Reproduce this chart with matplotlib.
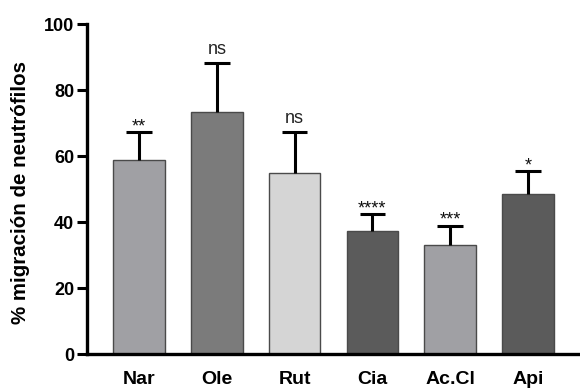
import matplotlib
matplotlib.use("Agg")
import matplotlib.pyplot as plt
import numpy as np

categories = ["Nar", "Ole", "Rut", "Cia", "Ac.Cl", "Api"]
values = [58.8, 73.4, 54.9, 37.3, 33.0, 48.4]
err_top = [67.2, 88.1, 67.2, 42.4, 38.9, 55.5]
signif = ["**", "ns", "ns", "****", "***", "*"]
colors = ["#a0a0a4", "#7b7b7b", "#d5d5d5", "#5b5b5b", "#a0a0a4", "#5b5b5b"]
yticks = [0, 20, 40, 60, 80, 100]

plt.rcParams['font.family'] = ['Liberation Sans', 'DejaVu Sans']

fig = plt.figure(figsize=(5.8, 3.91), dpi=100)
ax = fig.add_axes([0.15, 0.0946, 0.85, 0.844])

x = np.arange(len(categories))
ax.bar(x, values, width=0.66, color=colors, edgecolor="#4a4a4a", linewidth=1.0, zorder=2)
ax.vlines(x, values, err_top, colors="black", linewidth=2.2, zorder=3)
ax.hlines(err_top, x - 0.165, x + 0.165, colors="black", linewidth=2.2, zorder=3)
for xi, t, s in zip(x, err_top, signif):
    if s == "ns":
        ax.text(xi, t + 1.6, s, ha="center", va="bottom", fontsize=13, color="#222222")
    else:
        ax.text(xi, t - 1.0, s, ha="center", va="bottom", fontsize=13, color="#111111")

ax.set_xlim(-0.67, 5.67)
ax.set_ylim(0, 100)
ax.set_yticks(yticks)
ax.set_yticklabels([str(v) for v in yticks], fontsize=13, fontweight="bold")
ax.set_xticks(x)
ax.set_xticklabels(categories, fontsize=14, fontweight="bold")
ax.tick_params(axis="x", length=0, pad=12)
ax.tick_params(axis="y", length=7.2, width=2.2, pad=2)
ax.spines["top"].set_visible(False)
ax.spines["right"].set_visible(False)
ax.spines["left"].set_linewidth(2.4)
ax.spines["bottom"].set_linewidth(2.4)
ax.set_ylabel("% migración de neutrófilos", fontsize=14.8, fontweight="bold")
ax.yaxis.set_label_coords((21 - 87) / (0.85 * 580), 0.49)
ax.yaxis.label.set_verticalalignment("center")

fig.savefig("out.png", dpi=100)
